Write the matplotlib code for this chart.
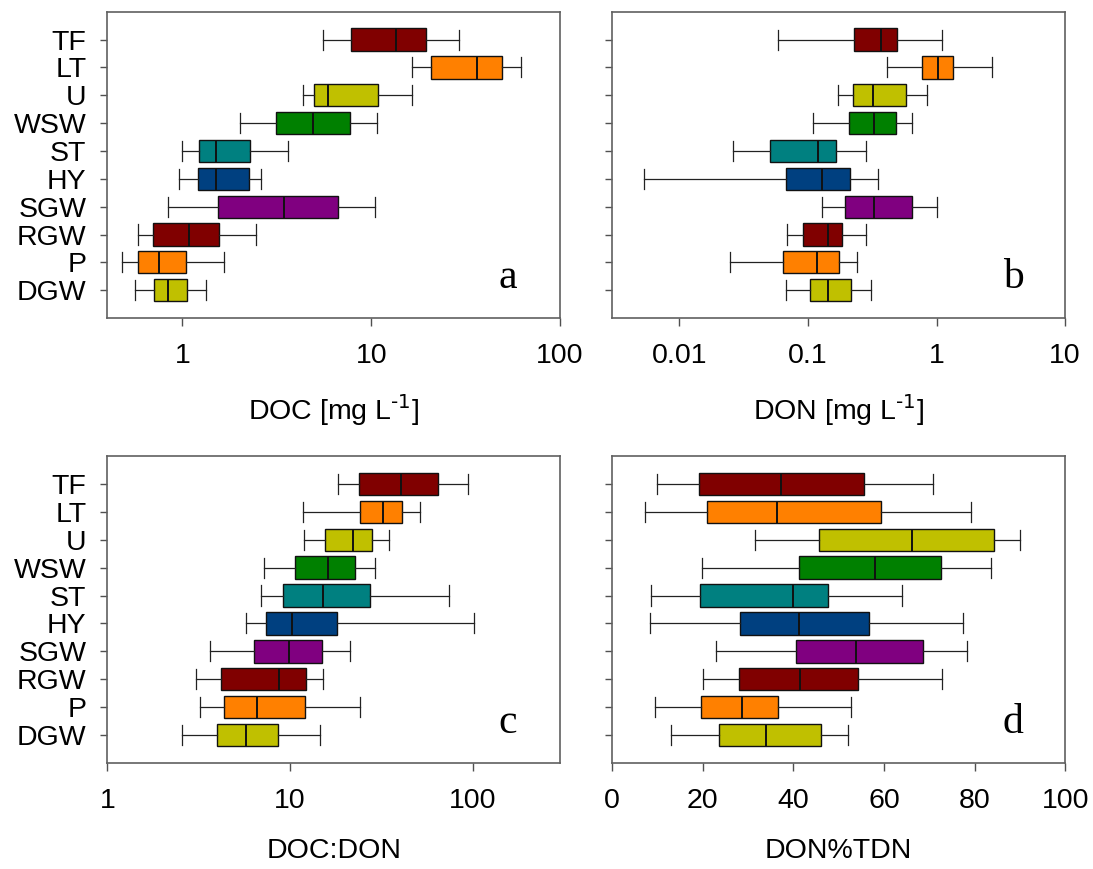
import matplotlib
matplotlib.use("Agg")
import matplotlib.pyplot as plt
from matplotlib.ticker import NullLocator, FixedLocator, FixedFormatter

plt.rcParams['font.family'] = ['Liberation Sans', 'DejaVu Sans']
plt.rcParams['mathtext.default'] = 'regular'

# sites, listed bottom -> top
sites = ['DGW', 'P', 'RGW', 'SGW', 'HY', 'ST', 'WSW', 'U', 'LT', 'TF']
colors = ['#c0c000', '#ff8000', '#800000', '#800080', '#004080',
          '#008080', '#008000', '#c0c000', '#ff8000', '#800000']

# each row: whisker low, q1, median, q3, whisker high (same order as sites)
doc = [[0.56, 0.71, 0.84, 1.06, 1.33],
       [0.48, 0.58, 0.75, 1.04, 1.66],
       [0.58, 0.70, 1.08, 1.57, 2.45],
       [0.84, 1.54, 3.44, 6.64, 10.5],
       [0.96, 1.21, 1.50, 2.24, 2.62],
       [1.00, 1.22, 1.50, 2.27, 3.63],
       [2.01, 3.12, 4.91, 7.72, 10.7],
       [4.33, 4.95, 5.91, 10.8, 16.5],
       [16.4, 20.8, 36.1, 49.2, 61.8],
       [5.56, 7.81, 13.5, 19.4, 29.3]]

don = [[0.0675, 0.103, 0.144, 0.218, 0.310],
       [0.0248, 0.0636, 0.117, 0.176, 0.242],
       [0.0683, 0.091, 0.143, 0.184, 0.285],
       [0.129, 0.193, 0.329, 0.645, 1.00],
       [0.0053, 0.0672, 0.129, 0.213, 0.348],
       [0.0262, 0.0504, 0.119, 0.164, 0.284],
       [0.109, 0.209, 0.325, 0.488, 0.645],
       [0.171, 0.226, 0.320, 0.580, 0.849],
       [0.410, 0.776, 1.03, 1.35, 2.68],
       [0.0589, 0.230, 0.369, 0.493, 1.10]]

doc_don = [[2.55, 4.00, 5.72, 8.63, 14.5],
           [3.21, 4.35, 6.60, 12.0, 24.2],
           [3.04, 4.21, 8.67, 12.2, 15.1],
           [3.63, 6.35, 9.84, 14.9, 21.4],
           [5.77, 7.42, 10.3, 18.1, 101.0],
           [6.91, 9.19, 15.2, 27.5, 74.5],
           [7.18, 10.7, 16.1, 22.7, 29.3],
           [11.9, 15.6, 22.0, 28.2, 34.7],
           [11.7, 24.2, 32.4, 40.7, 51.5],
           [18.2, 23.7, 40.3, 64.6, 93.9]]

don_tdn = [[13.1, 23.6, 33.9, 46.1, 52.1],
           [9.5, 19.6, 28.7, 36.6, 52.8],
           [20.1, 28.0, 41.4, 54.3, 72.8],
           [22.9, 40.7, 53.8, 68.6, 78.3],
           [8.3, 28.2, 41.3, 56.6, 77.4],
           [8.5, 19.3, 40.0, 47.6, 64.0],
           [19.9, 41.3, 58.0, 72.6, 83.6],
           [31.5, 45.7, 66.1, 84.2, 90.1],
           [7.3, 20.9, 36.5, 59.4, 79.2],
           [9.9, 19.1, 37.2, 55.7, 70.8]]

panels = [
    (doc, r'DOC [mg L$^{\text{-1}}$]', 'a', 'log', (0.4, 100), [1, 10, 100], ['1', '10', '100'], True),
    (don, r'DON [mg L$^{\text{-1}}$]', 'b', 'log', (0.003, 10), [0.01, 0.1, 1, 10], ['0.01', '0.1', '1', '10'], False),
    (doc_don, 'DOC:DON', 'c', 'log', (1, 300), [1, 10, 100], ['1', '10', '100'], True),
    (don_tdn, 'DON%TDN', 'd', 'linear', (0, 100), [0, 20, 40, 60, 80, 100],
     ['0', '20', '40', '60', '80', '100'], False),
]

rects = [[0.0982, 0.634, 0.4142, 0.3525],
         [0.5600, 0.634, 0.4145, 0.3525],
         [0.0982, 0.122, 0.4142, 0.3533],
         [0.5600, 0.122, 0.4145, 0.3533]]

fig = plt.figure(figsize=(10.93, 8.69), dpi=100)

for rect, (data, xlabel, letter, scale, xlim, ticks, ticklabels, show_sites) in zip(rects, panels):
    ax = fig.add_axes(rect)
    ax.set_xscale(scale)
    stats = []
    for name, row in zip(sites, data):
        stats.append(dict(label=name, whislo=row[0], q1=row[1], med=row[2],
                          q3=row[3], whishi=row[4], fliers=[]))
    pos = list(range(1, len(sites) + 1))
    bp = ax.bxp(stats, positions=pos, vert=False, widths=0.8, capwidths=0.72,
                patch_artist=True, showfliers=False,
                boxprops=dict(edgecolor='#111111', linewidth=1.0),
                medianprops=dict(color='#111111', linewidth=1.4),
                whiskerprops=dict(color='#222222', linewidth=0.9),
                capprops=dict(color='#222222', linewidth=0.9))
    for patch, c in zip(bp['boxes'], colors):
        patch.set_facecolor(c)

    ax.set_xlim(*xlim)
    ax.set_ylim(0, 11)
    ax.xaxis.set_major_locator(FixedLocator(ticks))
    ax.xaxis.set_major_formatter(FixedFormatter(ticklabels))
    ax.xaxis.set_minor_locator(NullLocator())
    ax.yaxis.set_major_locator(FixedLocator(pos))
    if show_sites:
        ax.set_yticklabels(sites)
    else:
        ax.set_yticklabels([])
    ax.tick_params(axis='x', direction='out', length=6, width=1, color='#505050',
                   labelsize=20.5, pad=12)
    ax.tick_params(axis='y', direction='out', length=5, width=1, color='#505050',
                   labelsize=20.5, pad=10)
    for sp in ax.spines.values():
        sp.set_color('#606060')
        sp.set_linewidth(1.2)

    ax.set_xlabel(xlabel, fontsize=20.5)
    ax.xaxis.set_label_coords(0.5, -0.245)
    ax.text(0.885, 0.098, letter, transform=ax.transAxes, ha='center', va='baseline',
            fontsize=30, family=['Liberation Serif', 'DejaVu Serif'])

fig.savefig('out.png', dpi=100)
